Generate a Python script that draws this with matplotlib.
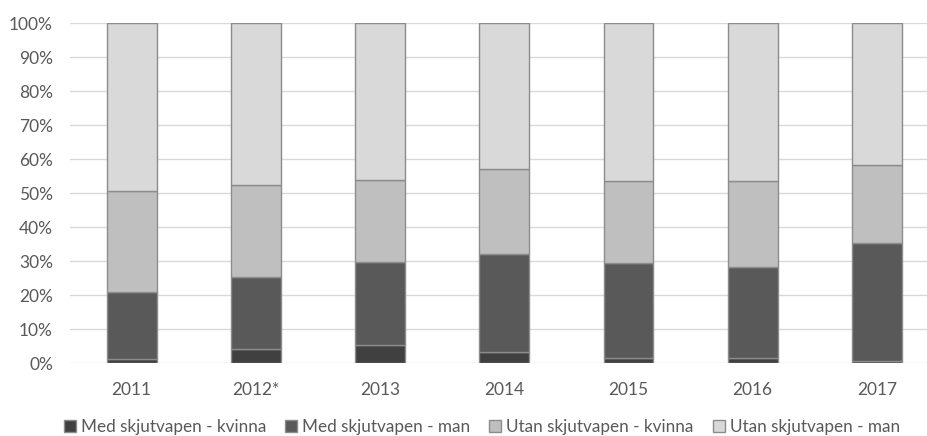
import numpy as np
import matplotlib.pyplot as plt
from matplotlib.ticker import PercentFormatter

plt.rcParams['font.family'] = ['Lato', 'DejaVu Sans']

years = ['2011', '2012*', '2013', '2014', '2015', '2016', '2017']
series_names = ['Med skjutvapen - kvinna', 'Med skjutvapen - man',
                'Utan skjutvapen - kvinna', 'Utan skjutvapen - man']

# share of each group per year, in percent
med_kvinna = [1.1, 4.2, 5.4, 3.2, 1.5, 1.6, 0.6]
med_man = [19.9, 21.2, 24.4, 28.8, 27.9, 26.5, 34.6]
utan_kvinna = [29.5, 26.9, 24.0, 25.2, 24.0, 25.4, 23.1]
utan_man = [49.5, 47.7, 46.2, 42.8, 46.6, 46.5, 41.7]

colors = ['#404040', '#595959', '#bfbfbf', '#d9d9d9']
text_color = '#595959'

fig = plt.figure(figsize=(9.28, 4.36), dpi=100)
ax = fig.add_axes([69.6 / 928, 73 / 436, (928 - 69.6) / 928, 340 / 436])

x = np.arange(len(years))
bottom = np.zeros(len(years))
for vals, name, col in zip([med_kvinna, med_man, utan_kvinna, utan_man], series_names, colors):
    ax.bar(x, vals, width=0.4, bottom=bottom, color=col, edgecolor='#8c8c8c',
           linewidth=1, label=name, zorder=3)
    bottom += np.array(vals)

ax.set_ylim(0, 100)
ax.set_xlim(-0.5, -0.5 + (928 - 69.6) / 124.2)
ax.set_yticks(np.arange(0, 101, 10))
ax.yaxis.set_major_formatter(PercentFormatter(decimals=0))
ax.set_xticks(x)
ax.set_xticklabels(years)
ax.grid(axis='y', color='#d9d9d9', linewidth=1, zorder=0)
for s in ax.spines.values():
    s.set_visible(False)
ax.tick_params(axis='both', length=0, labelsize=12.5, colors=text_color)
ax.tick_params(axis='y', pad=12)
ax.tick_params(axis='x', pad=14)

leg = fig.legend(loc='center', bbox_to_anchor=(482 / 928, 9 / 436), ncol=4,
                 frameon=False, fontsize=12.3, handlelength=0.7, handleheight=0.7,
                 handletextpad=0.3, columnspacing=1.1, borderaxespad=0)
for t in leg.get_texts():
    t.set_color(text_color)

fig.savefig('out.png', dpi=100)
